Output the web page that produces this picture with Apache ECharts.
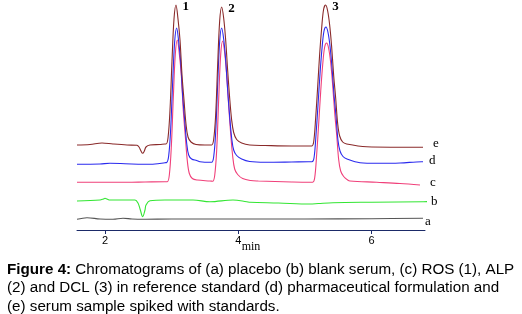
<!DOCTYPE html>
<html><head><meta charset="utf-8">
<script src="https://cdn.jsdelivr.net/npm/echarts@6/dist/echarts.min.js"></script>
<style>html,body{margin:0;padding:0;background:#fff}#c{width:522px;height:314px}</style>
</head><body><div id="c"></div>
<script>
// time (min) vs detector signal (arbitrary units)
const traceA = [[1.58,10.7],[1.73,12.3],[1.925,11],[2.12,10.7],[2.27,11.7],[2.405,11],[2.57,10.7],[3.0,11],[4.0,11],[5.0,11],[6.0,11.3],[6.77,11.7]];
const traceB = [[1.58,29],[1.925,30],[1.975,31],[2.0,31.7],[2.03,31],[2.075,30],[2.45,30],[2.495,27],[2.53,20],[2.565,13.3],[2.6,20],[2.615,25],[2.675,29.3],[2.9,30],[3.32,30],[3.575,28.3],[3.92,30],[4.125,28.3],[4.175,27.7],[4.6,27],[5.075,26],[5.2,26.5],[5.42,27.3],[6.0,27.8],[6.775,28.3],[6.875,28.5]];
const traceC = [[1.58,47.7],[1.85,47.8],[2.33,47.7],[2.6,48],[2.9,48.3],
 [2.935,48.3],[2.965,55],[2.995,83.5],[3.025,133],[3.055,176],[3.085,190],[3.115,176],[3.145,154.5],[3.175,119],[3.205,93.5],[3.235,69],[3.265,56.5],[3.31,51.5],[3.385,50],[3.575,49],
 [3.615,48.7],[3.645,54.3],[3.675,79.5],[3.705,130],[3.735,175],[3.765,189],[3.795,177.5],[3.825,155],[3.855,124.5],[3.885,96.5],[3.915,74],[3.945,61],[3.99,55.5],[4.065,51.5],[4.185,49.5],
 [4.3,49],[4.8,48],[5.06,47.7],
 [5.115,47.8],[5.145,52],[5.175,75.5],[5.205,106],[5.235,138],[5.265,165],[5.295,183],[5.325,187],[5.355,181.5],[5.385,167.5],[5.415,145],[5.445,117.5],[5.475,95.5],[5.505,70.5],[5.535,59],[5.58,53.5],[5.64,50],
 [5.675,49],[6.075,47.7],[6.425,46.5],[6.725,45]];
const traceD = [[1.58,65.7],[1.925,66],[2.075,66.7],[2.3,66.3],[2.57,65.7],[2.75,66],[2.9,67.3],
 [2.925,67.5],[2.955,74],[2.985,101],[3.015,148],[3.045,188.5],[3.075,202],[3.105,188.5],[3.135,168],[3.165,134.5],[3.195,110],[3.225,87],[3.255,75],[3.3,71],[3.375,69.5],[3.425,68.3],[3.575,67.7],
 [3.6,67.7],[3.63,73],[3.66,97.5],[3.69,145.5],[3.72,188.5],[3.75,202],[3.78,191],[3.81,170],[3.84,140],[3.87,113.5],[3.9,92],[3.93,80],[3.975,74.5],[4.05,71],[4.17,68.5],
 [4.4,67.7],[4.8,68],[5.05,68.3],
 [5.105,68.3],[5.135,72],[5.165,95],[5.195,125],[5.225,156],[5.255,181.5],[5.285,199],[5.315,203],[5.345,197.5],[5.375,184],[5.405,162.5],[5.435,135.5],[5.465,114],[5.495,89.5],[5.525,79],[5.57,73.5],[5.63,71],
 [5.825,67.3],[6.075,66.7],[6.425,67],[6.75,68.3],[6.77,68.3]];
const traceE = [[1.58,85],[1.775,85.5],[1.955,87],[2.12,86],[2.33,85],[2.48,84.7],[2.51,83],[2.54,79],[2.565,76.7],[2.59,79],[2.615,83],[2.675,85],[2.825,85.5],[2.9,86],
 [2.915,86],[2.945,92],[2.975,120],[3.005,169],[3.035,211],[3.065,225],[3.095,211],[3.125,190],[3.155,155],[3.185,130],[3.215,106],[3.245,93],[3.29,88],[3.365,85.5],[3.5,85],
 [3.6,85],[3.63,90.5],[3.66,115],[3.69,165],[3.72,209],[3.75,223],[3.78,212],[3.81,190],[3.84,159.5],[3.87,132],[3.9,110],[3.93,97.5],[3.975,90.5],[4.05,87],[4.17,85],
 [4.4,84.5],[4.8,84],[5.05,84],
 [5.1,84],[5.13,88],[5.16,112],[5.19,143],[5.22,176],[5.25,202],[5.28,221],[5.31,225],[5.34,219],[5.37,205],[5.4,183],[5.43,154.5],[5.46,132],[5.49,106.5],[5.52,94],[5.565,88],[5.625,86],
 [5.925,83.3],[6.77,82.7]];
const traceNames = ['a','b','c','d','e'];
const peakTimes = [3.065, 3.75, 5.31];
const peakNames = ['1','2','3'];
const xTicks = [2, 4, 6];
const caption = [
  '{b|Figure 4:} Chromatograms of (a) placebo (b) blank serum, (c) ROS (1), ALP',
  '(2) and DCL (3) in reference standard (d) pharmaceutical formulation and',
  '(e) serum sample spiked with standards.'
];

const colors = ['#555555','#33e633','#f0407a','#2a2aee','#8a2a2a'];
const labelOffsets = [[-3,3],[-1,0],[5,-2],[1,-1],[5,-4]];
const traces = [traceA, traceB, traceC, traceD, traceE];

const peakMarks = peakTimes.map((t, i) => {
  const p = traceE.find(q => Math.abs(q[0] - t) < 1e-6);
  return {coord: p, name: peakNames[i], label: {formatter: peakNames[i]}};
});

const series = traces.map((d, k) => {
  const s = {
    type: 'line', name: traceNames[k], data: d,
    showSymbol: false, symbol: 'none', smooth: 0.35, clip: false,
    lineStyle: {color: colors[k], width: 1.1},
    itemStyle: {color: colors[k]},
    emphasis: {disabled: true},
    endLabel: {show: true, formatter: traceNames[k], distance: 5, offset: labelOffsets[k],
      fontFamily: 'Liberation Serif', fontSize: 13, color: '#000'},
    z: 2 + k
  };
  if (k === 4) {
    s.markPoint = {
      symbol: 'circle', symbolSize: 1, itemStyle: {color: 'rgba(0,0,0,0)'},
      label: {show: true, position: 'right', distance: 6, offset: [0, 2],
        fontFamily: 'Liberation Serif', fontWeight: 'bold', fontSize: 13, color: '#000'},
      emphasis: {disabled: true},
      data: peakMarks
    };
  }
  return s;
});

const chart = echarts.init(document.getElementById('c'), null, {renderer: 'canvas'});
chart.setOption({
  animation: false,
  grid: {left: 77, right: 97, top: 0, bottom: 84, containLabel: false},
  xAxis: {
    type: 'value', min: 1.58, max: 6.8,
    axisLine: {show: true, onZero: false, lineStyle: {color: '#1b2a68', width: 1}},
    axisTick: {show: true, customValues: xTicks, length: 4, lineStyle: {color: '#1b2a68'}},
    axisLabel: {customValues: xTicks, fontFamily: 'Liberation Sans', fontSize: 11, color: '#000', margin: 5},
    splitLine: {show: false},
    name: 'min', nameLocation: 'middle', nameGap: 11, nameMoveOverlap: false,
    nameTextStyle: {fontFamily: 'Liberation Serif', fontSize: 12, color: '#000', verticalAlign: 'top'}
  },
  yAxis: {type: 'value', min: 0, max: 230, show: false, splitLine: {show: false}},
  series: series,
  graphic: caption.map((line, i) => ({
    type: 'text', x: 7, y: 270 + i * 18.3,
    style: {text: line, fontFamily: 'Liberation Sans', fontSize: 15.2, fill: '#000', verticalAlign: 'middle',
      rich: {b: {fontWeight: 'bold', fontFamily: 'Liberation Sans', fontSize: 15.2}}}
  }))
});
</script></body></html>
